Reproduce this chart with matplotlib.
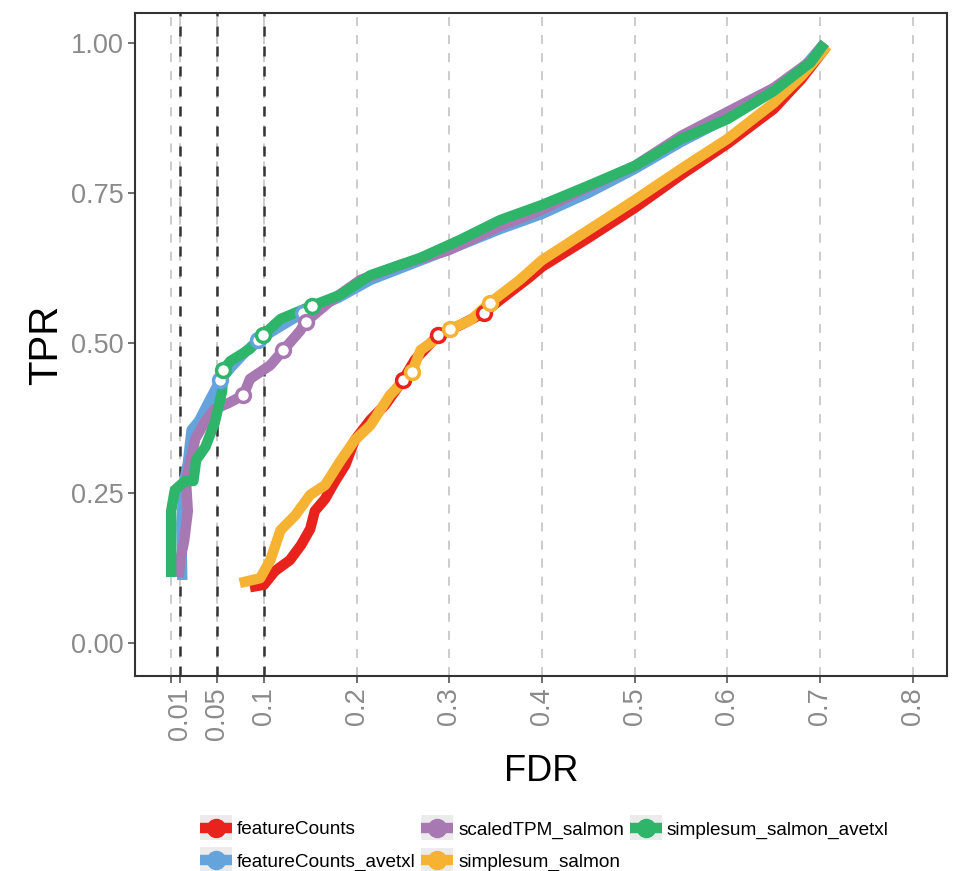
import numpy as np
import matplotlib
matplotlib.use('Agg')
import matplotlib.pyplot as plt
from matplotlib.lines import Line2D
from matplotlib.patches import Rectangle
from matplotlib.legend_handler import HandlerLine2D

plt.rcParams['font.family'] = ['Liberation Sans', 'DejaVu Sans']

# data (FDR, TPR)
methods = ['featureCounts', 'featureCounts_avetxl', 'scaledTPM_salmon',
           'simplesum_salmon', 'simplesum_salmon_avetxl']
colors = ['#E8221C', '#64A3DC', '#A878B2', '#F6B232', '#2EB56A']

fc_fdr = [0.085, 0.10, 0.112, 0.128, 0.14, 0.15, 0.155, 0.166, 0.177, 0.188, 0.198, 0.215, 0.231,
          0.25, 0.263, 0.288, 0.312, 0.337, 0.355, 0.387, 0.40, 0.45, 0.50, 0.55, 0.60,
          0.65, 0.68, 0.705]
fc_tpr = [0.093, 0.097, 0.12, 0.138, 0.163, 0.19, 0.22, 0.24, 0.27, 0.297, 0.338, 0.372, 0.397,
          0.438, 0.472, 0.513, 0.53, 0.55, 0.572, 0.61, 0.627, 0.675, 0.725, 0.78, 0.832,
          0.89, 0.94, 0.99]

fca_fdr = [0.012, 0.011, 0.014, 0.018, 0.022, 0.03, 0.04, 0.053, 0.065, 0.08, 0.094, 0.115, 0.142,
           0.18, 0.215, 0.265, 0.31, 0.355, 0.40, 0.45, 0.50, 0.55, 0.60, 0.65, 0.68, 0.705]
fca_tpr = [0.105, 0.2, 0.27, 0.3, 0.355, 0.37, 0.4, 0.438, 0.46, 0.485, 0.505, 0.525, 0.55,
           0.575, 0.605, 0.635, 0.662, 0.69, 0.715, 0.75, 0.79, 0.835, 0.875, 0.92, 0.955, 1.0]

tpm_fdr = [0.008, 0.01, 0.014, 0.018, 0.016, 0.026, 0.037, 0.047, 0.062, 0.078, 0.085, 0.107,
           0.121, 0.139, 0.145, 0.172, 0.204, 0.247, 0.30, 0.355, 0.40, 0.45, 0.50, 0.55,
           0.60, 0.65, 0.69, 0.705]
tpm_tpr = [0.11, 0.14, 0.17, 0.22, 0.27, 0.34, 0.37, 0.39, 0.40, 0.413, 0.44, 0.463,
           0.488, 0.52, 0.535, 0.57, 0.605, 0.63, 0.655, 0.695, 0.722, 0.76, 0.795, 0.845,
           0.885, 0.925, 0.97, 1.0]

ss_fdr = [0.074, 0.096, 0.107, 0.118, 0.134, 0.15, 0.166, 0.182, 0.198, 0.215, 0.236, 0.26,
          0.269, 0.301, 0.323, 0.344, 0.376, 0.40, 0.45, 0.50, 0.55, 0.60, 0.65, 0.68, 0.708]
ss_tpr = [0.10, 0.108, 0.138, 0.188, 0.213, 0.247, 0.263, 0.302, 0.338, 0.363, 0.413, 0.452,
          0.488, 0.523, 0.538, 0.567, 0.605, 0.638, 0.688, 0.738, 0.79, 0.84, 0.9, 0.945, 0.995]

ssa_fdr = [0.0, 0.0, 0.004, 0.015, 0.024, 0.027, 0.037, 0.047, 0.055, 0.056, 0.064, 0.085, 0.099,
           0.118, 0.152, 0.182, 0.215, 0.269, 0.312, 0.355, 0.40, 0.45, 0.50, 0.55, 0.60,
           0.65, 0.69, 0.705]
ssa_tpr = [0.11, 0.22, 0.255, 0.27, 0.27, 0.305, 0.327, 0.367, 0.42, 0.455, 0.47, 0.49, 0.513,
           0.54, 0.562, 0.58, 0.613, 0.642, 0.672, 0.705, 0.73, 0.762, 0.795, 0.84, 0.873,
           0.92, 0.968, 1.0]

# points at the FDR thresholds
fc_pts = ([0.25, 0.288, 0.337], [0.438, 0.513, 0.55])
fca_pts = ([0.053, 0.094, 0.142], [0.438, 0.505, 0.55])
tpm_pts = ([0.078, 0.121, 0.145], [0.413, 0.488, 0.535])
ss_pts = ([0.26, 0.301, 0.344], [0.452, 0.523, 0.567])
ssa_pts = ([0.056, 0.099, 0.152], [0.455, 0.513, 0.562])

curves = [(fc_fdr, fc_tpr), (fca_fdr, fca_tpr), (tpm_fdr, tpm_tpr), (ss_fdr, ss_tpr), (ssa_fdr, ssa_tpr)]
points = [fc_pts, fca_pts, tpm_pts, ss_pts, ssa_pts]

thresholds = [0.01, 0.05, 0.1]
xbreaks = [0, 0.01, 0.05, 0.1, 0.2, 0.3, 0.4, 0.5, 0.6, 0.7, 0.8]
xlabels = ['', '0.01', '0.05', '0.1', '0.2', '0.3', '0.4', '0.5', '0.6', '0.7', '0.8']
ybreaks = [0, 0.25, 0.5, 0.75, 1.0]
ylabels = ['0.00', '0.25', '0.50', '0.75', '1.00']

fig = plt.figure(figsize=(9.59, 8.71), dpi=100)
ax = fig.add_axes([135/959, 1 - 676/871, (947-135)/959, (676-13)/871])

for xb in xbreaks:
    ax.axvline(xb, color='#C8C8C8', lw=1.3, ls=(0, (5, 5)), zorder=0)
for t in thresholds:
    ax.axvline(t, color='#333333', lw=1.8, ls=(0, (4, 4)), zorder=1)

for (xs, ys), c in zip(curves, colors):
    ax.plot(xs, ys, color=c, lw=7.5, solid_joinstyle='round', solid_capstyle='butt', zorder=2)
for (px, py), c in zip(points, colors):
    ax.plot(px, py, 'o', ms=10, mfc='white', mec=c, mew=2.5, zorder=3)

ax.set_xlim(-0.039, 0.837)
ax.set_ylim(-0.055, 1.05)
ax.set_xticks(xbreaks)
ax.set_xticklabels(xlabels, rotation=90, color='#8A8A8A', fontsize=19.5)
ax.set_yticks(ybreaks)
ax.set_yticklabels(ylabels, color='#8A8A8A', fontsize=19.5)
ax.tick_params(axis='both', color='#555555', length=5, width=1.2, pad=3)
for s in ax.spines.values():
    s.set_color('#333333')
    s.set_linewidth(1.5)
ax.set_xlabel('FDR', fontsize=26, labelpad=10)
ax.set_ylabel('TPR', fontsize=29, labelpad=4)


class KeyHandler(HandlerLine2D):
    # grey key box behind the line + point, like ggplot
    def create_artists(self, legend, orig_handle, xdescent, ydescent, width, height, fontsize, trans):
        bg = Rectangle((-xdescent, -ydescent - 4.2), width, height + 8.4,
                       facecolor='#EBEBEB', edgecolor='none', transform=trans)
        arts = super().create_artists(legend, orig_handle, xdescent, ydescent, width, height, fontsize, trans)
        return [bg] + arts


handles = [Line2D([], [], color=c, lw=7.5, solid_capstyle='butt', marker='o', ms=13) for c in colors]
fig.legend(handles, methods, loc='upper left', bbox_to_anchor=(200/959, 1 - 821/871), ncol=3,
           frameon=False, fontsize=13.7, handlelength=1.68, handletextpad=0.26, columnspacing=0.3,
           labelspacing=0.78, borderpad=0, borderaxespad=0,
           handler_map={Line2D: KeyHandler(numpoints=1)})

fig.savefig('out.png', dpi=100)
